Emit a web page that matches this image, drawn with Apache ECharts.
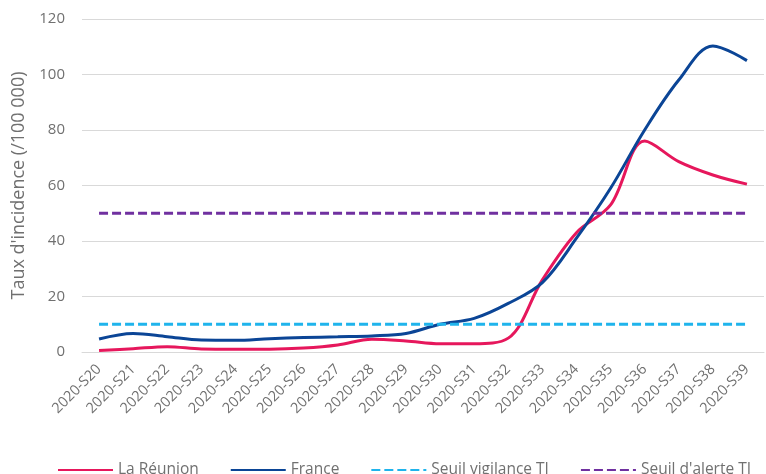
<!DOCTYPE html>
<html><head><meta charset="utf-8">
<script src="https://cdn.jsdelivr.net/npm/echarts@6/dist/echarts.min.js"></script>
<style>html,body{margin:0;padding:0;background:#fff}#c{width:766px;height:474px}</style>
</head><body><div id="c"></div>
<script>
const categories = ['2020-S20','2020-S21','2020-S22','2020-S23','2020-S24','2020-S25','2020-S26','2020-S27','2020-S28','2020-S29','2020-S30','2020-S31','2020-S32','2020-S33','2020-S34','2020-S35','2020-S36','2020-S37','2020-S38','2020-S39'];
const reunion = [0.5,1.2,1.9,1.1,1.0,1.0,1.4,2.5,4.6,4.0,3.0,3.0,5.0,26,43,53,76,68.6,63.8,60.5];
const france = [4.7,6.7,5.5,4.3,4.2,4.8,5.2,5.5,5.8,6.7,10,12.1,17.5,25,41,59,80,98,110.3,105];
const seuilVigilance = categories.map(() => 10);
const seuilAlerte = categories.map(() => 50);
const yTicks = [0,20,40,60,80,100,120];

const chart = echarts.init(document.getElementById('c'));
const font = 'Open Sans';
const txt = '#707070';
chart.setOption({
  animation: false,
  textStyle: {fontFamily: font},
  grid: {left: 82, right: 2, top: 19, bottom: 122, containLabel: false},
  legend: {
    top: 457, left: 52, itemWidth: 55, itemHeight: 1, itemGap: 31,
    textStyle: {color: txt, fontSize: 15.5, fontFamily: font},
    itemStyle: {opacity: 0},
    data: ['La Réunion', 'France', 'Seuil vigilance TI', "Seuil d'alerte TI"]
  },
  xAxis: {
    type: 'category', data: categories, boundaryGap: true,
    axisLine: {lineStyle: {color: '#d9d9d9'}},
    axisTick: {show: false},
    axisLabel: {rotate: 45, color: txt, fontSize: 14.5, interval: 0, margin: 15, fontFamily: font}
  },
  yAxis: {
    type: 'value', min: yTicks[0], max: yTicks[yTicks.length-1], interval: 20,
    name: "Taux d'incidence (/100 000)", nameLocation: 'middle', nameGap: 53,
    nameTextStyle: {color: txt, fontSize: 18, fontFamily: font},
    axisLabel: {color: txt, fontSize: 15, margin: 17, fontFamily: font},
    axisLine: {show: false}, axisTick: {show: false},
    splitLine: {lineStyle: {color: '#d9d9d9', width: 1}}
  },
  series: [
    {name: 'La Réunion', type: 'line', data: reunion, smooth: 0.35, symbol: 'none',
     lineStyle: {color: '#E6175C', width: 3}, itemStyle: {color: '#E6175C'}},
    {name: 'France', type: 'line', data: france, smooth: 0.35, symbol: 'none',
     lineStyle: {color: '#0B4596', width: 3}, itemStyle: {color: '#0B4596'}},
    {name: 'Seuil vigilance TI', type: 'line', data: seuilVigilance, symbol: 'none',
     lineStyle: {color: '#1FB4EC', width: 3, type: [9,4]}, itemStyle: {color: '#1FB4EC'}},
    {name: "Seuil d'alerte TI", type: 'line', data: seuilAlerte, symbol: 'none',
     lineStyle: {color: '#7030A0', width: 3, type: [9,4]}, itemStyle: {color: '#7030A0'}}
  ]
});
</script></body></html>
